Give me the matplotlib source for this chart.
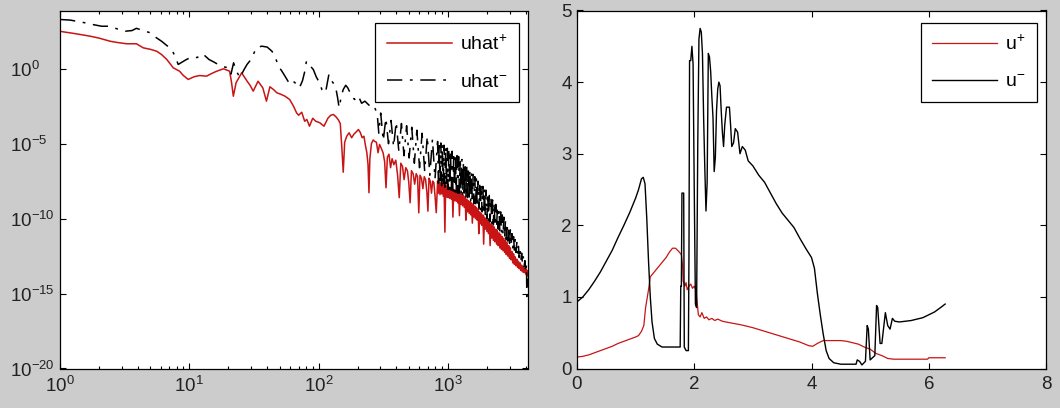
import numpy as np
import matplotlib
matplotlib.use("Agg")
import matplotlib.pyplot as plt
from matplotlib.ticker import NullLocator, LogLocator, FixedLocator

# ---------------- data: left panel (spectra, log10 of magnitude) ----------------
# uhat+ : low / mid wavenumbers
k_plus_low = [1, 1.3, 1.7, 2.0, 2.44, 2.8, 3.28, 3.9, 4.4, 5.0, 5.6, 6.1, 6.7, 7.5, 8.4, 9.0,
              9.8, 10.9, 12.0, 13.6, 15.0, 16.3, 18.4, 20.5, 21.2, 21.9, 23.0, 25.4, 28.0, 29.5,
              31.2, 34.0, 37.0, 39.5, 42.0, 45.0, 47.5, 51.0, 55.0, 59.7, 64.0, 67.5, 70.0, 74.0,
              78.0, 81.0, 85.0, 90.0, 95.0, 102, 110, 118, 124, 130, 136, 142, 147, 151, 155, 159,
              165, 172, 180, 188, 196, 203, 210, 217, 224, 230, 236, 241, 245, 249, 256, 264, 272,
              280, 288, 296, 305, 315, 324, 332, 340, 350, 360, 370, 382, 395, 408, 420, 432, 445,
              458, 472, 486, 498, 510, 522, 538, 553, 568, 582, 595, 608, 624, 640, 656, 672, 688,
              700, 714, 730, 746, 762, 778, 795, 812]
log_plus_low = [2.50, 2.35, 2.18, 2.05, 1.84, 1.75, 1.67, 1.67, 1.40, 1.30, 1.17, 0.95, 0.62,
                0.07, -0.16, -0.45, -0.71, -0.53, -0.45, -0.49, -0.30, -0.16, 0.00, -0.16,
                -0.90, -1.83, -0.93, -0.27, -0.83, -1.10, -1.49, -0.83, -1.27, -2.16, -1.20,
                -1.40, -1.60, -1.70, -1.83, -2.05, -2.50, -2.94, -3.10, -2.90, -3.50, -3.38,
                -3.83, -3.30, -3.50, -3.60, -3.83, -3.30, -3.10, -3.05, -3.20, -3.40, -3.65,
                -5.20, -6.90, -4.90, -4.50, -4.27, -4.60, -4.35, -4.20, -4.05, -4.25, -4.60,
                -4.50, -5.10, -5.60, -6.40, -8.27, -6.00, -5.00, -4.75, -4.85,
                -4.90, -5.60, -5.05, -5.30, -5.60, -6.20, -7.94, -5.90, -5.70, -6.60, -6.00,
                -6.40, -6.10, -7.10, -8.60, -6.30, -6.50, -7.40, -6.60, -6.80, -7.60, -8.94,
                -6.80, -7.00, -7.70, -7.00, -7.20, -9.61, -7.10, -7.30, -8.00, -7.20, -7.40,
                -8.30, -9.50, -7.30, -7.50, -8.30, -7.50, -7.60, -8.50, -9.60]

# wavenumbers of the dense high-k band (shared by both spectra)
k_band = [832, 844, 856, 868, 881, 894, 907, 920, 933, 947, 961, 975, 989, 1003, 1017, 1032,
          1047, 1062, 1078, 1093, 1109, 1125, 1142, 1158, 1175, 1192, 1209, 1227, 1245, 1263,
          1281, 1299, 1318, 1337, 1357, 1376, 1396, 1416, 1437, 1458, 1479, 1500, 1522, 1544,
          1567, 1590, 1613, 1636, 1660, 1684, 1708, 1733, 1758, 1783, 1809, 1835, 1862, 1889,
          1917, 1944, 1972, 2001, 2030, 2059, 2089, 2119, 2150, 2181, 2213, 2245, 2278, 2311,
          2344, 2378, 2413, 2448, 2483, 2519, 2556, 2593, 2630, 2668, 2707, 2746, 2786, 2826,
          2867, 2909, 2951, 2994, 3037, 3081, 3126, 3171, 3217, 3264, 3311, 3359, 3408, 3458,
          3508, 3559, 3610, 3662, 3715, 3769, 3824, 3880, 3936, 3993, 4051, 4072, 4093]
log_plus_band = [-7.50, -8.30, -7.55, -8.40, -7.60, -8.35, -7.65, -8.50, -7.70, -10.90, -7.75,
                 -8.55, -7.85, -8.60, -7.90, -8.65, -7.95, -8.70, -8.00, -9.90, -8.05, -8.80,
                 -8.10, -8.85, -8.15, -8.95, -8.20, -9.80, -8.30, -9.05, -8.35, -9.15, -8.45,
                 -9.25, -8.55, -10.10, -8.70, -9.55, -8.80, -9.65, -8.85, -9.75, -8.95, -10.30,
                 -9.05, -9.90, -9.15, -10.00, -9.25, -10.10, -9.35, -11.00, -9.55, -10.35,
                 -9.65, -10.45, -9.75, -11.70, -9.90, -10.70, -10.00, -10.85, -10.10, -11.00,
                 -10.20, -11.80, -10.35, -11.30, -10.45, -11.45, -10.55, -11.55, -10.70, -11.70,
                 -10.80, -11.80, -10.95, -11.95, -11.05, -12.05, -11.20, -12.15, -11.30, -12.25,
                 -11.45, -12.40, -11.60, -12.50, -11.80, -12.65, -11.95, -12.75, -12.20, -12.95,
                 -12.35, -13.05, -12.55, -13.15, -12.70, -13.25, -12.85, -13.35, -12.95, -13.45,
                 -13.10, -13.55, -13.20, -13.60, -13.30, -13.70, -13.40, -13.85, -13.50]

# uhat- : low / mid wavenumbers
k_minus_low = [1, 1.2, 1.56, 1.8, 2.1, 2.4, 2.8, 3.2, 3.6, 3.9, 4.4, 5.0, 5.5, 6.1, 6.7, 7.3,
               7.8, 8.2, 8.8, 9.5, 10.5, 11.5, 12.7, 14.2, 15.5, 16.7, 18.0, 20.0, 21.0, 22.0,
               23.0, 24.6, 26.5, 28.0, 30.0, 33.0, 36.3, 40.0, 43.6, 46.5, 49.0, 52.0, 55.0,
               59.0, 62.0, 66.0, 71.0, 75.0, 78.0, 80.5, 84.0, 91.0, 96.0, 101, 106, 113, 120,
               126, 135, 140, 144, 150, 155, 162, 168, 175, 182, 190, 197, 205, 215, 228, 240,
               250, 262, 275, 285, 292, 302, 316, 331, 347, 363, 380, 398, 417, 437, 457, 479,
               501, 525, 550, 575, 603, 631, 661, 692, 724, 759, 794]
log_minus_low = [3.29, 3.25, 3.07, 2.95, 2.84, 2.84, 2.65, 2.51, 2.55, 2.70, 2.55, 2.40, 2.10,
                 1.84, 1.55, 1.29, 0.80, 0.29, 0.45, 0.62, 0.80, 0.75, 1.00, 0.62, 0.45, 0.29,
                 0.15, 0.07, -0.35, 0.40, -0.10, -0.60, -0.05, 0.30, 0.62, 1.40, 1.51, 1.45,
                 1.17, 0.70, 0.17, -0.16, -0.50, -0.94, -0.75, -0.95, -1.27, -0.80, -0.20, 0.51,
                 0.30, -0.05, -0.55, -0.90, -1.38, -1.60, -0.38, -0.80, -1.16, -1.90, -2.60,
                 -1.80, -1.38, -1.10, -1.27, -1.60, -1.90, -2.05, -1.80, -1.90, -2.30, -2.16,
                 -2.35, -2.49, -2.40, -2.70, -3.20, -4.30,
                 -2.95, -4.80, -3.30, -5.00, -3.45, -5.20, -3.55, -5.50, -3.65, -5.80, -3.80,
                 -5.95, -3.90, -6.30, -4.10, -6.60, -4.30, -6.85, -4.50, -7.10, -4.70, -7.35]
log_minus_band = [-4.85, -7.65, -4.90, -7.75, -4.95, -7.80, -5.05, -7.85, -5.10, -7.90, -5.20,
                  -7.95, -5.30, -8.05, -5.40, -8.05, -5.45, -8.10, -5.50, -8.15, -5.60, -8.20,
                  -5.70, -8.25, -5.80, -8.30, -5.85, -8.35, -5.95, -8.40, -6.05, -8.50, -6.20,
                  -8.55, -6.30, -8.65, -6.45, -8.70, -6.60, -8.80, -6.75, -8.85, -6.90, -8.95,
                  -7.05, -9.00, -7.20, -9.10, -7.35, -9.20, -7.50, -9.30, -7.60, -9.40, -7.75,
                  -9.55, -7.85, -9.70, -8.00, -9.85, -8.10, -10.00, -8.30, -10.10, -8.45, -10.20,
                  -8.60, -10.30, -8.75, -10.40, -8.90, -10.50, -9.05, -10.60, -9.20, -10.70,
                  -9.40, -10.85, -9.55, -10.95, -9.75, -11.10, -9.90, -11.25, -10.10, -11.40,
                  -10.30, -11.50, -10.55, -11.65, -10.75, -11.80, -11.00, -11.95, -11.20, -12.10,
                  -11.40, -12.25, -11.60, -12.40, -11.85, -12.60, -12.05, -12.80, -12.30, -13.00,
                  -12.55, -13.20, -12.80, -13.60, -13.10, -15.20, -14.00]

# ---------------- data: right panel ----------------
x_minus = [0.00, 0.10, 0.20, 0.30, 0.40, 0.50, 0.60, 0.70, 0.80, 0.90, 1.00, 1.05, 1.10, 1.13,
           1.16, 1.19, 1.22, 1.25, 1.28, 1.32, 1.37, 1.45, 1.60, 1.76, 1.77, 1.78, 1.79, 1.82,
           1.83, 1.86, 1.90, 1.91, 1.92, 1.94, 1.96, 1.98, 2.00, 2.02, 2.04, 2.06, 2.08, 2.10,
           2.12, 2.14, 2.16, 2.18, 2.20, 2.22, 2.24, 2.26, 2.28, 2.30, 2.32, 2.34, 2.36, 2.38,
           2.40, 2.42, 2.44, 2.46, 2.48, 2.50, 2.52, 2.55, 2.60, 2.62, 2.64, 2.67, 2.70, 2.74,
           2.78, 2.82, 2.87, 2.92, 3.00, 3.10, 3.20, 3.30, 3.40, 3.50, 3.60, 3.70, 3.80, 3.90,
           4.00, 4.05, 4.10, 4.15, 4.20, 4.25, 4.30, 4.38, 4.50, 4.65, 4.76, 4.78, 4.82, 4.86,
           4.92, 4.95, 4.97, 5.00, 5.04, 5.08, 5.11, 5.13, 5.17, 5.20, 5.26, 5.30, 5.34, 5.38,
           5.42, 5.50, 5.60, 5.70, 5.80, 5.90, 6.00, 6.10, 6.20, 6.28]
u_minus = [0.93, 1.00, 1.10, 1.22, 1.35, 1.50, 1.65, 1.83, 2.00, 2.18, 2.38, 2.50, 2.65, 2.67,
           2.58, 2.10, 1.50, 1.00, 0.65, 0.42, 0.34, 0.30, 0.30, 0.30, 1.15, 1.15, 2.45, 2.45,
           0.30, 0.25, 0.25, 1.60, 4.30, 4.30, 4.50, 4.25, 2.50, 0.90, 0.85, 3.15, 4.60, 4.75,
           4.70, 4.40, 3.50, 2.80, 2.20, 2.60, 4.40, 4.35, 4.15, 3.80, 3.50, 2.75, 2.95, 3.60,
           3.90, 4.00, 3.95, 3.60, 3.30, 3.10, 3.40, 3.65, 3.65, 3.40, 3.10, 3.15, 3.35, 3.30,
           3.00, 3.10, 3.05, 2.90, 2.83, 2.70, 2.60, 2.45, 2.30, 2.17, 2.07, 1.97, 1.82, 1.68,
           1.55, 1.40, 1.05, 0.75, 0.48, 0.25, 0.14, 0.08, 0.06, 0.06, 0.06, 0.12, 0.10, 0.05,
           0.10, 0.60, 0.55, 0.12, 0.15, 0.18, 0.88, 0.85, 0.35, 0.35, 0.78, 0.60, 0.55, 0.70,
           0.66, 0.65, 0.66, 0.67, 0.69, 0.71, 0.75, 0.79, 0.85, 0.90]

x_plus = [0.00, 0.10, 0.20, 0.30, 0.40, 0.50, 0.60, 0.70, 0.80, 0.90, 1.00, 1.05, 1.10, 1.14,
          1.17, 1.20, 1.22, 1.25, 1.30, 1.37, 1.45, 1.52, 1.58, 1.63, 1.68, 1.73, 1.78, 1.80,
          1.81, 1.84, 1.86, 1.88, 1.91, 1.94, 1.97, 2.00, 2.03, 2.05, 2.07, 2.10, 2.13, 2.17,
          2.21, 2.25, 2.30, 2.35, 2.40, 2.48, 2.60, 2.80, 3.00, 3.20, 3.40, 3.60, 3.80, 3.95,
          4.02, 4.10, 4.20, 4.30, 4.50, 4.60, 4.70, 4.80, 4.90, 5.00, 5.10, 5.20, 5.30, 5.40,
          5.70, 5.98, 6.00, 6.28]
u_plus = [0.16, 0.17, 0.19, 0.22, 0.25, 0.28, 0.31, 0.35, 0.38, 0.41, 0.44, 0.46, 0.52, 0.60,
          0.85, 1.00, 1.10, 1.28, 1.33, 1.40, 1.48, 1.55, 1.63, 1.68, 1.68, 1.64, 1.59, 1.45,
          1.22, 1.15, 1.20, 1.10, 1.15, 1.18, 1.12, 1.15, 1.10, 0.92, 0.75, 0.72, 0.78, 0.70,
          0.72, 0.68, 0.70, 0.67, 0.69, 0.66, 0.64, 0.61, 0.57, 0.52, 0.47, 0.42, 0.37, 0.32,
          0.31, 0.35, 0.39, 0.39, 0.39, 0.38, 0.36, 0.34, 0.30, 0.27, 0.21, 0.18, 0.14, 0.13,
          0.13, 0.13, 0.15, 0.15]

left_labels = [r"uhat$^{+}$", r"uhat$^{-}$"]
right_labels = [r"u$^{+}$", r"u$^{-}$"]
left_xticks = [1, 10, 100, 1000]
left_yticks = [1e-20, 1e-15, 1e-10, 1e-5, 1e0]
left_ytick_labels = [r"$10^{-20}$", r"$10^{-15}$", r"$10^{-10}$", r"$10^{-5}$", r"$10^{0}$"]
right_xticks = [0, 2, 4, 6, 8]
right_yticks = [0, 1, 2, 3, 4, 5]

# ---------------- style ----------------
plt.rcParams.update({
    "font.family": ["Liberation Sans", "DejaVu Sans"],
    "mathtext.fontset": "custom",
    "mathtext.rm": "Liberation Sans",
    "mathtext.it": "Liberation Sans:italic",
    "mathtext.bf": "Liberation Sans:bold",
    "mathtext.default": "regular",
})
RED = "#c81414"
BG = "#cccccc"
W, H = 1060, 408

fig = plt.figure(figsize=(W / 100, H / 100), dpi=100, facecolor=BG)
ax1 = fig.add_axes([60 / W, 1 - 368.5 / H, 468 / W, 358 / H])
ax2 = fig.add_axes([577 / W, 1 - 368.5 / H, 469 / W, 358 / H])

# left panel
k_plus = np.concatenate([k_plus_low, k_band])
uhat_plus = 10.0 ** np.concatenate([log_plus_low, log_plus_band])
k_minus = np.concatenate([k_minus_low, k_band])
uhat_minus = 10.0 ** np.concatenate([log_minus_low, log_minus_band])

ax1.plot(k_plus, uhat_plus, color=RED, lw=1.1, label=left_labels[0])
ax1.plot(k_minus, uhat_minus, color="k", lw=1.1, ls=(0, (10, 5, 1.8, 5)),
         label=left_labels[1])
ax1.set_xscale("log")
ax1.set_yscale("log")
ax1.set_xlim(1, 4160)
ax1.set_ylim(1e-20, 10 ** 3.89)
ax1.xaxis.set_major_locator(FixedLocator(left_xticks))
ax1.xaxis.set_minor_locator(LogLocator(base=10, subs=np.arange(2, 10)))
ax1.set_yticks(left_yticks, left_ytick_labels, ha="left")
ax1.yaxis.set_minor_locator(NullLocator())

# right panel
ax2.plot(x_plus, u_plus, color=RED, lw=0.9, label=right_labels[0])
ax2.plot(x_minus, u_minus, color="k", lw=1.0, label=right_labels[1])
ax2.set_xlim(0, 8)
ax2.set_ylim(0, 5)
ax2.set_xticks(right_xticks)
ax2.set_yticks(right_yticks)

for ax in (ax1, ax2):
    ax.set_facecolor("white")
    for s in ax.spines.values():
        s.set_linewidth(0.9)
        s.set_color("k")
    ax.tick_params(which="both", direction="in", top=True, right=True, width=0.8,
                   colors="k", labelcolor="#222222", labelsize=13.5)
    ax.tick_params(which="major", length=4)
    ax.tick_params(which="minor", length=2.2)
    ax.tick_params(axis="x", pad=5.5)
    leg = ax.legend(loc="upper right", bbox_to_anchor=(0.981, 0.966), borderaxespad=0,
                    fontsize=14, handlelength=3.34, handletextpad=0.41, labelspacing=1.0,
                    borderpad=0.6, fancybox=False, framealpha=1, edgecolor="k")
    leg.get_frame().set_linewidth(0.9)

ax1.tick_params(axis="y", pad=36)
ax2.tick_params(axis="y", pad=3.8)

fig.savefig("out.png", dpi=100, facecolor=BG)
